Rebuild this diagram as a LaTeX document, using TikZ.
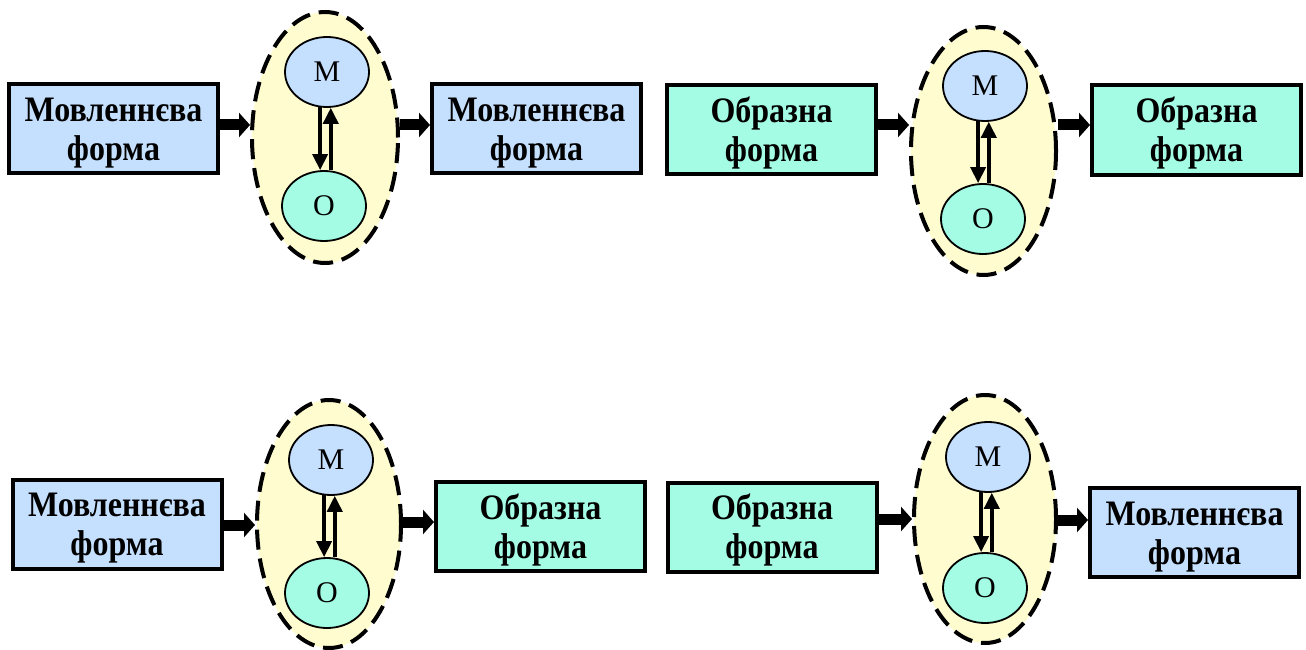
\documentclass[tikz,border=0pt]{standalone}
\usepackage{graphicx}
\usepackage{fontspec}
\setmainfont{Liberation Serif}
\usetikzlibrary{arrows.meta,shapes.geometric}
\definecolor{cblue}{HTML}{C5E0FE}
\definecolor{cgreen}{HTML}{A3FCE3}
\definecolor{cyel}{HTML}{FFFDD0}
\newcommand{\tallt}[1]{\scalebox{1}[1.12]{#1}}
\newcommand{\mform}{\rule{0pt}{32pt}\tallt{Мовленнєва}\\\tallt{форма}}
\newcommand{\oform}{\rule{0pt}{32pt}\tallt{Образна}\\\tallt{форма}}
\begin{document}
\begin{tikzpicture}[x=1pt,y=-1pt,
  formbox/.style={draw, line width=4pt, minimum width=209pt, minimum height=89pt,
    inner sep=0pt, align=center, font=\fontsize{32}{39}\selectfont\bfseries},
  bluebox/.style={formbox, fill=cblue},
  greenbox/.style={formbox, fill=cgreen},
  outerell/.style={ellipse, draw, fill=cyel, line width=4pt, dash pattern=on 20pt off 9pt,
    inner sep=0pt},
  innerell/.style={ellipse, draw, line width=1.8pt, minimum width=84pt, minimum height=70pt,
    inner sep=0pt, font=\fontsize{30}{32}\selectfont},
  mnode/.style={innerell, fill=cblue},
  onode/.style={innerell, fill=cgreen},
  bigarrow/.style={line width=11pt, -{Triangle[length=11pt,width=24pt]}},
  smallarrow/.style={line width=3.6pt, -{Triangle[length=16pt,width=15pt]}}
]
\useasboundingbox[fill=white] (0,0) rectangle (1306,650);

% ---------- panel A (top left)
\node[bluebox] (b1) at (113.5,128.5) {\mform};
\node[outerell, minimum width=146pt, minimum height=251pt] (eA) at (325,137.5) {};
\node[mnode] (mA) at (327,72) {М};
\node[onode] (oA) at (324,206) {О};
\node[bluebox] (b2) at (536.5,128.5) {\mform};
\coordinate (pA1) at (b1.east |- 0,125);
\coordinate (pA2) at (eA.east |- 0,125);
\draw[bigarrow] (pA1) -- (pA1 -| eA.west);
\draw[bigarrow] (pA2) -- (pA2 -| b2.west);
\draw[smallarrow] (mA.259) -- (mA.259 |- oA.north);
\draw[smallarrow] (mA.276 |- oA.north) -- (mA.276);

% ---------- panel B (top right)
\node[greenbox] (b3) at (771.5,129.5) {\oform};
\node[outerell, minimum width=145pt, minimum height=248pt] (eB) at (983.5,151) {};
\node[mnode] (mB) at (985,86) {М};
\node[onode] (oB) at (983,219) {О};
\node[greenbox] (b4) at (1196.5,130) {\oform};
\coordinate (pB1) at (b3.east |- 0,125);
\coordinate (pB2) at (eB.east |- 0,125);
\draw[bigarrow] (pB1) -- (pB1 -| eB.west);
\draw[bigarrow] (pB2) -- (pB2 -| b4.west);
\draw[smallarrow] (mB.259) -- (mB.259 |- oB.north);
\draw[smallarrow] (mB.276 |- oB.north) -- (mB.276);

% ---------- panel C (bottom left)
\node[bluebox] (b5) at (117,524) {\mform};
\node[outerell, minimum width=144pt, minimum height=248pt] (eC) at (329,524) {};
\node[mnode] (mC) at (331,460) {М};
\node[onode] (oC) at (327,593) {О};
\node[greenbox] (b6) at (540.5,526.5) {\oform};
\coordinate (pC1) at (b5.east |- 0,525);
\coordinate (pC2) at (eC.east |- 0,522);
\draw[bigarrow] (pC1) -- (pC1 -| eC.west);
\draw[bigarrow] (pC2) -- (pC2 -| b6.west);
\draw[smallarrow] (mC.259) -- (mC.259 |- oC.north);
\draw[smallarrow] (mC.276 |- oC.north) -- (mC.276);

% ---------- panel D (bottom right)
\node[greenbox] (b7) at (772,527) {\oform};
\node[outerell, minimum width=142pt, minimum height=248pt] (eD) at (985,519) {};
\node[mnode] (mD) at (988,457) {М};
\node[onode] (oD) at (985,588) {О};
\node[bluebox] (b8) at (1194.5,532.5) {\mform};
\coordinate (pD1) at (b7.east |- 0,519);
\coordinate (pD2) at (eD.east |- 0,520);
\draw[bigarrow] (pD1) -- (pD1 -| eD.west);
\draw[bigarrow] (pD2) -- (pD2 -| b8.west);
\draw[smallarrow] (mD.259) -- (mD.259 |- oD.north);
\draw[smallarrow] (mD.276 |- oD.north) -- (mD.276);
\end{tikzpicture}
\end{document}
